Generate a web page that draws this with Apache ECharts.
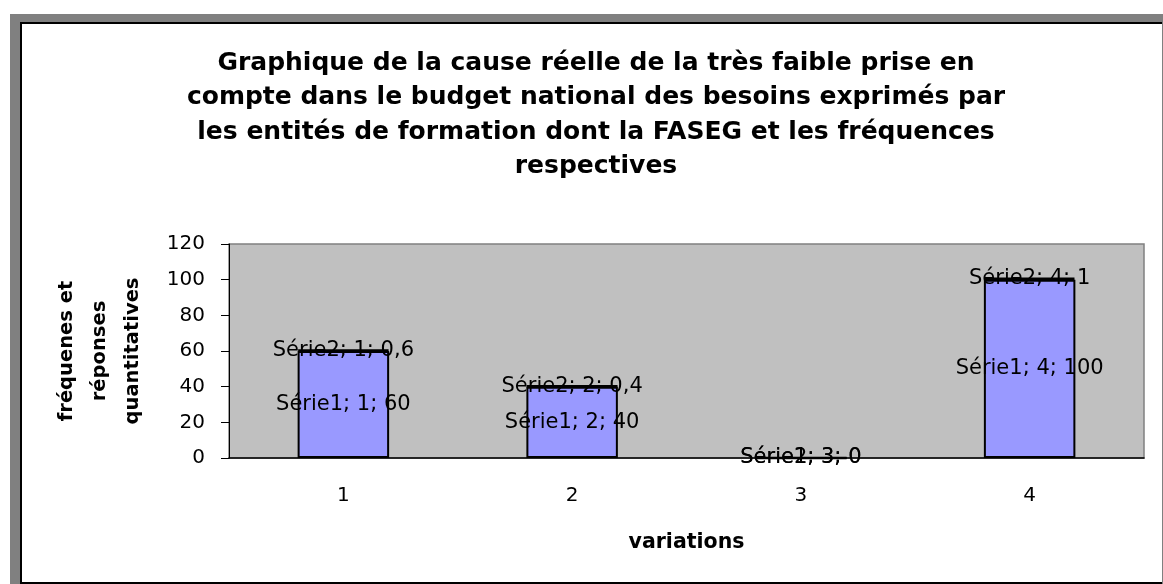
<!DOCTYPE html>
<html>
<head>
<meta charset="utf-8">
<script src="https://cdn.jsdelivr.net/npm/echarts@6/dist/echarts.min.js"></script>
<style>
  body { margin: 0; background: #fff; }
  #frame { position: absolute; left: 10px; top: 14px; right: 0; bottom: 0; background: #808080; }
  #inner {
    position: absolute; left: 20px; top: 22px; width: 1142px; height: 562px;
    box-sizing: border-box; background: #fff;
    border-left: 2px solid #000; border-top: 2px solid #000; border-bottom: 2px solid #000;
  }
  #chart { position: absolute; left: 0; top: 0; width: 1163px; height: 584px; }
</style>
</head>
<body>
<div id="frame"></div>
<div id="inner"></div>
<div id="chart"></div>
<script>
const categories = ['1', '2', '3', '4'];
const serie1 = [60, 40, 0, 100];
const serie2 = [0.6, 0.4, 0, 1];
const yTicks = { min: 0, max: 120, interval: 20 };

const titleText = 'Graphique de la cause réelle de la très faible prise en\n' +
  'compte dans le budget national des besoins exprimés par\n' +
  'les entités de formation dont la FASEG et les fréquences\n' +
  'respectives';

const font = 'DejaVu Sans';

// labels look like "Série1; 1; 60" with a decimal comma
const labelFmt = p => `${p.seriesName}; ${p.name}; ${String(p.value).replace('.', ',')}`;

const chart = echarts.init(document.getElementById('chart'));
chart.setOption({
  animation: false,
  title: {
    text: titleText,
    left: 591,
    textAlign: 'center',
    top: 41,
    textStyle: { fontFamily: font, fontWeight: 'bold', fontSize: 25, lineHeight: 34.5, color: '#000' },
  },
  grid: {
    left: 229, right: 19, top: 244, bottom: 126,
    show: true, backgroundColor: '#C0C0C0', borderColor: '#808080', borderWidth: 1.5,
  },
  xAxis: {
    type: 'category',
    data: categories,
    name: 'variations',
    nameLocation: 'middle',
    nameGap: 74,
    nameTextStyle: { fontFamily: font, fontWeight: 'bold', fontSize: 20.5, color: '#000' },
    axisLine: { lineStyle: { color: '#000', width: 1.5 } },
    axisTick: { length: 8, lineStyle: { color: '#000' } },
    axisLabel: { margin: 28, fontFamily: font, fontSize: 20, color: '#000' },
  },
  yAxis: {
    type: 'value',
    min: yTicks.min, max: yTicks.max, interval: yTicks.interval,
    name: 'fréquenes et\nréponses\nquantitatives',
    nameLocation: 'middle',
    nameRotate: 90,
    nameGap: 80,
    nameTextStyle: { fontFamily: font, fontWeight: 'bold', fontSize: 19.5, lineHeight: 33, color: '#000', align: 'center' },
    splitLine: { show: false },
    axisLine: { show: true, lineStyle: { color: '#000', width: 1 } },
    axisTick: { show: true, length: 8, lineStyle: { color: '#000' } },
    axisLabel: { margin: 24, fontFamily: font, fontSize: 20, color: '#000' },
  },
  series: [
    {
      name: 'Série1',
      type: 'bar',
      stack: 'all',
      data: serie1,
      barWidth: '40%',
      itemStyle: { color: '#9999FF', borderColor: '#000', borderWidth: 2 },
      label: {
        show: true, position: 'inside', formatter: labelFmt,
        fontFamily: font, fontSize: 21, color: '#000', textBorderWidth: 0,
      },
    },
    {
      name: 'Série2',
      type: 'bar',
      stack: 'all',
      data: serie2,
      itemStyle: { color: '#000', borderColor: '#000', borderWidth: 2.5 },
      label: {
        show: true, position: 'inside', formatter: labelFmt,
        fontFamily: font, fontSize: 21, color: '#000', textBorderWidth: 0,
      },
    },
  ],
});
</script>
</body>
</html>
